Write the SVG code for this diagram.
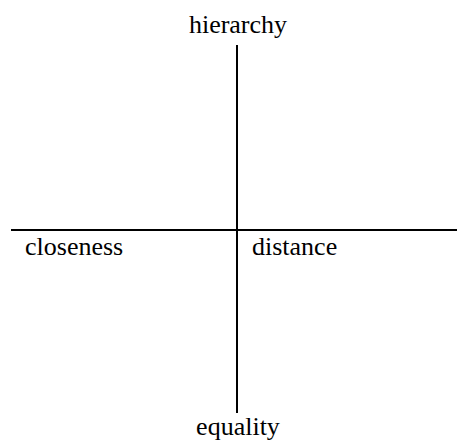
<svg xmlns="http://www.w3.org/2000/svg" width="457" height="445" viewBox="0 0 457 445">
<style>
text{font-family:'Liberation Serif','Times New Roman',Times,serif;font-size:26px;fill:#000}
.ax{stroke:#000;stroke-width:2;fill:none}
</style>
<rect width="457" height="445" fill="#fff"/>
<g id="connectors">
<line class="ax" x1="237" y1="45" x2="237" y2="413"/>
<line class="ax" x1="11" y1="230" x2="457" y2="230"/>
</g>
<g id="hierarchy"><text font-family="Liberation Serif, serif" x="238" y="33" text-anchor="middle">hierarchy</text></g>
<g id="closeness"><text font-family="Liberation Serif, serif" x="25" y="255">closeness</text></g>
<g id="distance"><text font-family="Liberation Serif, serif" x="252" y="255">distance</text></g>
<g id="equality"><text font-family="Liberation Serif, serif" x="238" y="435" text-anchor="middle">equality</text></g>
</svg>
